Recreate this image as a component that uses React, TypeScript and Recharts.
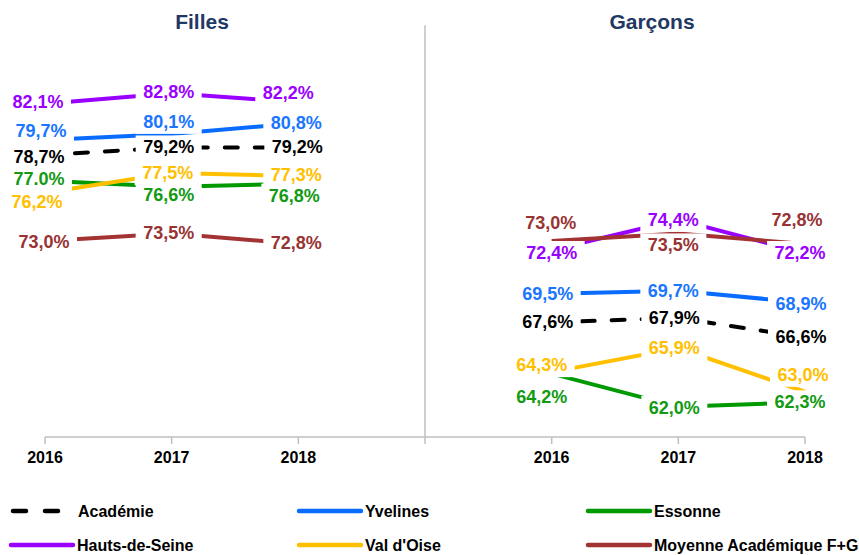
import { LineChart, Line, XAxis, YAxis, ReferenceLine, LabelList } from 'recharts'

// axe : 3 années filles, un vide, 3 années garçons
const tickLabels = ['2016', '2017', '2018', '', '2016', '2017', '2018']

const academieF = [78.7, 79.2, 79.2]
const academieG = [67.6, 67.9, 66.6]
const yvelinesF = [79.7, 80.1, 80.8]
const yvelinesG = [69.5, 69.7, 68.9]
const essonneF = [77.0, 76.6, 76.8]
const essonneG = [64.2, 62.0, 62.3]
const hdsF = [82.1, 82.8, 82.2]
const hdsG = [72.4, 74.4, 72.2]
const valdoiseF = [76.2, 77.5, 77.3]
const valdoiseG = [64.3, 65.9, 63.0]
const moyenneF = [73.0, 73.5, 72.8]
const moyenneG = [73.0, 73.5, 72.8]

const series = [
  { key: 'academie', name: 'Académie', color: '#000000', text: '#000000', f: academieF, g: academieG, dashed: true },
  { key: 'yvelines', name: 'Yvelines', color: '#0a6cff', text: '#1a75ff', f: yvelinesF, g: yvelinesG },
  { key: 'essonne', name: 'Essonne', color: '#009900', text: '#129a12', f: essonneF, g: essonneG },
  { key: 'hds', name: 'Hauts-de-Seine', color: '#9900ff', text: '#9900ff', f: hdsF, g: hdsG },
  { key: 'valdoise', name: "Val d'Oise", color: '#ffc000', text: '#ffc000', f: valdoiseF, g: valdoiseG },
  { key: 'moyenne', name: 'Moyenne Académique F+G', color: '#a33333', text: '#993333', f: moyenneF, g: moyenneG },
]

// décalage des étiquettes (dx, dy) par rapport au point
const labelShift: Record<string, number[][]> = {
  academie: [[-6, 2], [-3, 0], [-1, 0], [0, 0], [-4, 0], [-4, 0], [-4, 0]],
  yvelines: [[-4, -9], [-3, -12], [-2, 0], [0, 0], [-4, 0], [-5, 0], [-4, 1]],
  essonne: [[-6, -2], [-3, 8], [-4, 12], [0, 0], [-10, 23], [-4, 1], [-5, 0]],
  hds: [[-7, -2], [-3, -1], [-10, -9], [0, 0], [0, 3], [-5, 0], [-5, 0]],
  valdoise: [[-8, 9], [-4, 0], [-2, -1], [0, 0], [-10, -7], [-4, 0], [-2, -17]],
  moyenne: [[-1, 1], [-3, 0], [-2, -1], [0, 0], [-1, -18], [-5, 12], [-8, -24]],
}

const labelOverride: Record<string, string> = { 'essonne-0': '77.0%' }

const data = tickLabels.map((label, i) => {
  const row: Record<string, number | string | null> = { i, label }
  series.forEach((s) => {
    row[s.key] = i < 3 ? s.f[i] : i > 3 ? s.g[i - 4] : null
  })
  return row
})

const fmt = (v: number) => v.toFixed(1).replace('.', ',') + '%'

const sans = '"Liberation Sans", Arial, sans-serif'

function makeLabel(key: string, color: string) {
  return (props: any) => {
    const { x, y, value, index } = props
    if (value == null) return null
    const [dx, dy] = labelShift[key][index] || [0, 0]
    const cx = x + dx
    const cy = y + dy
    const txt = labelOverride[`${key}-${index}`] ?? fmt(value)
    return (
      <g key={`${key}-${index}`}>
        <rect x={cx - 33} y={cy - 12} width={66} height={24} fill="#ffffff" />
        <text
          x={cx}
          y={cy}
          textAnchor="middle"
          dominantBaseline="central"
          fill={color}
          fontSize={18}
          fontWeight="bold"
          fontFamily={sans}
        >
          {txt}
        </text>
      </g>
    )
  }
}

function LegendRow() {
  const cols = [11, 299, 588]
  return (
    <svg width={859} height={65} style={{ position: 'absolute', left: 0, top: 490 }}>
      {series.map((s, n) => {
        const x = cols[n % 3]
        const y = n < 3 ? 21 : 55
        return (
          <g key={s.key}>
            {s.dashed ? (
              <line x1={x + 2} y1={y} x2={x + 47} y2={y} stroke={s.color} strokeWidth={4.5}
                strokeDasharray="13 19" strokeLinecap="round" />
            ) : (
              <line x1={x} y1={y} x2={x + 62} y2={y} stroke={s.color} strokeWidth={4.5} strokeLinecap="round" />
            )}
            <text x={s.dashed ? x + 67 : x + 66} y={y} dominantBaseline="central" fontSize={16}
              fontWeight="bold" fontFamily={sans} fill="#000">
              {s.name}
            </text>
          </g>
        )
      })}
    </svg>
  )
}

export default function App() {
  const title = {
    position: 'absolute' as const,
    top: 10,
    width: 200,
    textAlign: 'center' as const,
    fontFamily: sans,
    fontWeight: 'bold' as const,
    fontSize: 21,
    color: '#1f3864',
  }
  return (
    <div style={{ position: 'absolute', left: 0, top: 0, width: 859, height: 555, background: '#fff' }}>
      <LineChart width={859} height={555} data={data} margin={{ top: 60, right: 54, bottom: 88, left: 45 }}>
        <XAxis
          dataKey="i"
          type="category"
          tickFormatter={(v: number) => tickLabels[v]}
          interval={0}
          height={30}
          axisLine={{ stroke: '#bfbfbf', strokeWidth: 1.5 }}
          tickLine={{ stroke: '#bfbfbf', strokeWidth: 1.5 }}
          tickSize={7}
          tickMargin={8}
          tick={{ fill: '#000', fontSize: 16, fontWeight: 'bold', fontFamily: sans }}
        />
        <YAxis hide domain={[60, 85]} />
        <ReferenceLine
          segment={[{ x: 3, y: 60 }, { x: 3, y: 87.3 }]}
          stroke="#bfbfbf"
          strokeWidth={1.5}
          ifOverflow="visible"
        />
        {series.map((s) => (
          <Line
            key={s.key}
            dataKey={s.key}
            name={s.name}
            stroke={s.color}
            strokeWidth={4}
            strokeDasharray={s.dashed ? '13 17' : undefined}
            strokeLinecap={s.dashed ? 'round' : 'butt'}
            dot={false}
            activeDot={false}
            isAnimationActive={false}
          />
        ))}
        {/* étiquettes par-dessus toutes les courbes */}
        {series.map((s) => (
          <Line
            key={`lbl-${s.key}`}
            dataKey={s.key}
            stroke="none"
            strokeWidth={0}
            dot={false}
            activeDot={false}
            legendType="none"
            isAnimationActive={false}
          >
            <LabelList dataKey={s.key} content={makeLabel(s.key, s.text)} />
          </Line>
        ))}
      </LineChart>
      <div style={{ ...title, left: 102 }}>Filles</div>
      <div style={{ ...title, left: 552 }}>Garçons</div>
      <LegendRow />
    </div>
  )
}
